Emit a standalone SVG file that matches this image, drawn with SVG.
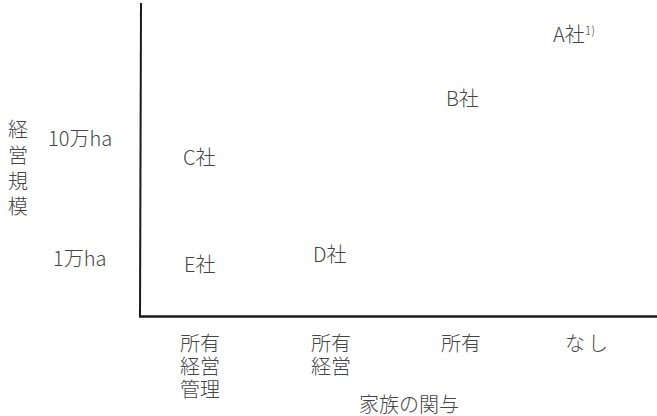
<svg xmlns="http://www.w3.org/2000/svg" width="657" height="416" viewBox="0 0 657 416">
<style>
text{font-family:"Noto Sans CJK JP","Noto Sans",sans-serif;font-size:20px;font-weight:300;fill:#454545}
.ax{stroke:#1a1a1a;fill:none}
</style>
<rect width="657" height="416" fill="#fff"/>
<g id="axes">
<line class="ax" x1="141" y1="3" x2="140" y2="317" stroke-width="2"/>
<line class="ax" x1="139" y1="316.5" x2="657" y2="316.5" stroke-width="2.5"/>
</g>
<g id="y-axis-label">
<text x="8" y="137">経</text>
<text x="8" y="163">営</text>
<text x="8" y="189">規</text>
<text x="8" y="214">模</text>
</g>
<g id="y-ticks">
<text x="48" y="146">10万ha</text>
<text x="53" y="266">1万ha</text>
</g>
<g id="companyA"><text x="553" y="42">A社<tspan font-size="12" dy="-7">1)</tspan></text></g>
<g id="companyB"><text x="446" y="106">B社</text></g>
<g id="companyC"><text x="183" y="165">C社</text></g>
<g id="companyD"><text x="313" y="262">D社</text></g>
<g id="companyE"><text x="184" y="272">E社</text></g>
<g id="x-ticks">
<text x="180" y="351">所有</text>
<text x="180" y="374">経営</text>
<text x="180" y="397">管理</text>
<text x="311" y="351">所有</text>
<text x="311" y="374">経営</text>
<text x="441" y="351">所有</text>
<text x="565" y="351">な<tspan dx="3">し</tspan></text>
</g>
<g id="x-axis-label"><text x="359" y="412">家族の関与</text></g>
</svg>
